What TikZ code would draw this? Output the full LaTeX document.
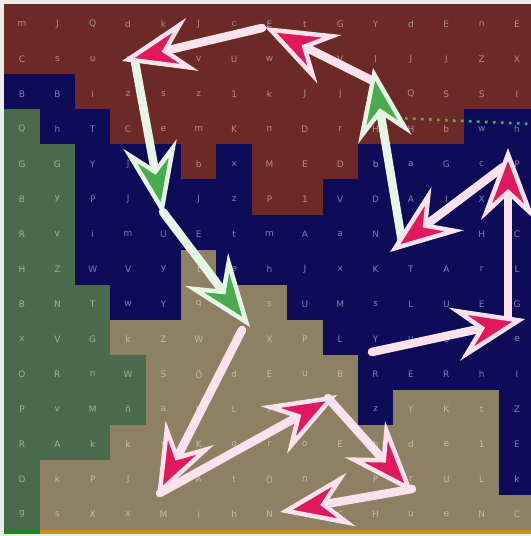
\documentclass[tikz,border=0pt]{standalone}
\usepackage{fontspec}
\setmainfont{DejaVu Sans}
\usepackage{xcolor}
\usetikzlibrary{arrows.meta}
\definecolor{colR}{RGB}{108,41,38}
\definecolor{colN}{RGB}{14,12,88}
\definecolor{colG}{RGB}{74,106,76}
\definecolor{colT}{RGB}{142,128,98}
\definecolor{pinkline}{RGB}{251,226,236}
\definecolor{greenline}{RGB}{230,245,230}
\definecolor{headred}{RGB}{226,24,92}
\definecolor{headgreen}{RGB}{72,172,76}
\definecolor{dotgreen}{RGB}{76,175,80}
\definecolor{edgegreen}{RGB}{34,130,34}
\definecolor{edgegold}{RGB}{196,146,30}
\tikzset{
  every picture/.style={line cap=round, >=Stealth},
  glyph/.style={text=white, text opacity=0.48, font=\fontsize{9}{10}\selectfont, inner sep=0pt},
  pinkmove/.style={draw=pinkline, line width=8.5bp,
    -{Stealth[length=72bp, width=54bp, inset=25bp, line width=4.5bp, fill=headred]}},
  greenmove/.style={draw=greenline, line width=8.5bp,
    -{Stealth[length=72bp, width=54bp, inset=25bp, line width=4.5bp, fill=headgreen]}},
  trail/.style={draw=dotgreen, line width=2.6bp, line cap=butt, dash pattern=on 2.6bp off 5.4bp},
}

\begin{document}
\begin{tikzpicture}[x=1bp,y=-1bp]
\useasboundingbox (0,0) rectangle (531,536);
\clip (0,0) rectangle (531,536);
\fill[gray!15] (0,0) rectangle (531,536);

% cells
\foreach \row [count=\j from 0] in {
  {R,R,R,R,R,R,R,R,R,R,R,R,R,R,R},
  {R,R,R,R,R,R,R,R,R,R,R,R,R,R,R},
  {N,N,R,R,R,R,R,R,R,R,R,R,R,R,R},
  {G,N,N,R,R,R,R,R,R,R,R,R,R,N,N},
  {G,G,N,N,N,R,N,R,R,R,N,N,N,N,N},
  {G,G,N,N,N,N,N,R,R,N,N,N,N,N,N},
  {G,G,N,N,N,N,N,N,N,N,N,N,N,N,N},
  {G,G,N,N,N,T,N,N,N,N,N,N,N,N,N},
  {G,G,G,N,N,T,T,T,N,N,N,N,N,N,N},
  {G,G,G,T,T,T,T,T,T,N,N,N,N,N,N},
  {G,G,G,G,T,T,T,T,T,T,N,N,N,N,N},
  {G,G,G,G,T,T,T,T,T,T,N,T,T,T,N},
  {G,G,G,T,T,T,T,T,T,T,T,T,T,T,N},
  {G,T,T,T,T,T,T,T,T,T,T,T,T,T,N},
  {G,T,T,T,T,T,T,T,T,T,T,T,T,T,T}}{
  \foreach \c [count=\i from 0] in \row
    \fill[col\c] ({4.3+35.36*\i},{4.5+35*\j}) rectangle ++(35.46,35.1);
}
\fill[edgegold] (4.3,529.5) rectangle (531,533.5);
\fill[edgegreen] (4.3,529.5) rectangle (39.66,533.5);

% letters
\foreach \row [count=\j from 0] in {
  {m,J,Q,d,k,J,c,E,t,G,Y,d,E,n,E},
  {C,s,u,r,a,v,U,w,b,V,l,J,j,Z,X},
  {B,B,i,z,s,z,1,k,J,j,L,Q,S,S,I},
  {Q,h,T,C,e,m,K,n,D,r,H,H,b,w,h},
  {G,G,Y,J,f,b,x,M,E,D,b,a,G,c,P},
  {B,y,P,J,q,J,z,P,1,V,D,A,I,X,e},
  {R,v,i,m,U,E,t,m,A,a,N,q,v,H,C},
  {H,Z,W,V,y,t,e,h,J,x,K,T,A,r,L},
  {B,N,T,w,Y,q,r,s,U,M,s,L,U,E,G},
  {x,V,G,k,Z,W,f,X,P,L,Y,u,U,o,e},
  {O,R,n,W,S,Ö,d,E,u,B,R,E,R,h,I},
  {P,v,M,ñ,a,b,L,y,k,u,z,Y,K,t,Z},
  {R,A,k,k,v,K,o,r,o,E,h,d,e,1,E},
  {D,k,P,J,a,A,t,Ö,n,u,P,r,U,L,k},
  {g,s,X,x,M,i,h,N,r,c,H,u,e,N,C}}{
  \foreach \l [count=\i from 0] in \row
    \node[glyph] (c\j-\i) at ({22+35.36*\i},{24+35*\j}) {\l};
}

% moves
\coordinate (p7s) at (372,352); \coordinate (p7e) at (525,319);
\coordinate (p8s) at (508,322); \coordinate (p8e) at (508,148);
\coordinate (p9s) at (503,167); \coordinate (p9e) at (390,252);
\coordinate (g1s) at (402,242); \coordinate (g1e) at (373,68);
\coordinate (p5s) at (375,82);  \coordinate (p5e) at (265,27);
\coordinate (p6s) at (262,28);  \coordinate (p6e) at (122,61);
\coordinate (g2s) at (135,62);  \coordinate (g2e) at (163,215);
\coordinate (g3s) at (163,212); \coordinate (g3e) at (250,327);
\coordinate (p1s) at (242,330); \coordinate (p1e) at (157,497);
\coordinate (p2s) at (160,493); \coordinate (p2e) at (337,395);
\coordinate (p3s) at (328,398); \coordinate (p3e) at (413,493);
\coordinate (p4s) at (412,489); \coordinate (p4e) at (280,512);
\coordinate (dots) at (397,118); \coordinate (dote) at (531,124);

\draw[trail] (dots) -- (dote);
\draw[pinkmove] (p4s) -- (p4e);
\draw[pinkmove] (p3s) -- (p3e);
\draw[pinkmove] (p2s) -- (p2e);
\draw[pinkmove] (p1s) -- (p1e);
\draw[greenmove] (g3s) -- (g3e);
\draw[greenmove] (g2s) -- (g2e);
\draw[pinkmove] (p6s) -- (p6e);
\draw[pinkmove] (p5s) -- (p5e);
\draw[greenmove] (g1s) -- (g1e);
\draw[pinkmove] (p9s) -- (p9e);
\draw[pinkmove] (p8s) -- (p8e);
\draw[pinkmove] (p7s) -- (p7e);
\end{tikzpicture}
\end{document}
